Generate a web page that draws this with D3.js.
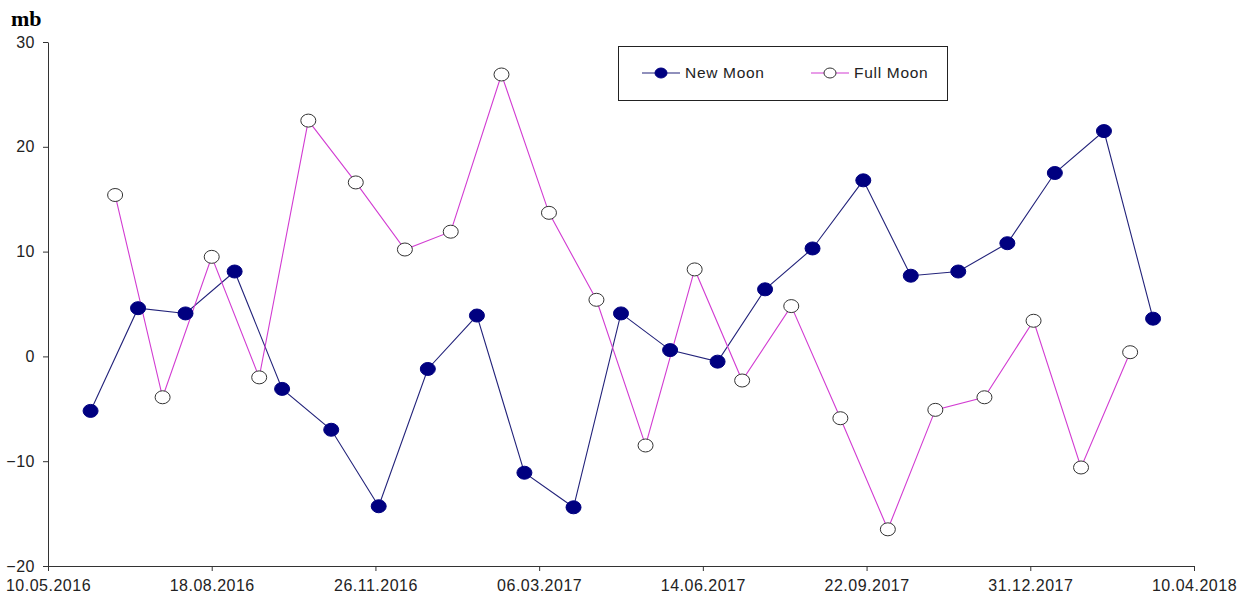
<!DOCTYPE html>
<html>
<head>
<meta charset="utf-8">
<script src="https://cdn.jsdelivr.net/npm/d3@7"></script>
<style>
    body { margin: 0; background: #fff; }
    .axis path, .axis line { stroke: #333; }
    .axis text { font-family: "Liberation Sans", Arial, sans-serif; font-size: 16px; letter-spacing: 0.5px; fill: #222; }
    .legend-text { font-family: "Liberation Sans", Arial, sans-serif; font-size: 15.5px; letter-spacing: 0.7px; fill: #222; }
</style>
</head>
<body>
<svg id="chart"></svg>
<script>
// Dates of the new and full moons (UTC) and the values in mb
const newMoonDates = ["2016-06-05", "2016-07-04", "2016-08-02", "2016-09-01", "2016-09-30", "2016-10-30",
    "2016-11-28", "2016-12-28", "2017-01-27", "2017-02-25", "2017-03-27", "2017-04-25", "2017-05-25",
    "2017-06-23", "2017-07-22", "2017-08-20", "2017-09-20", "2017-10-19", "2017-11-17", "2017-12-17",
    "2018-01-15", "2018-02-14", "2018-03-16"];
const newMoonValues = [-5.2, 4.6, 4.1, 8.1, -3.1, -7.0, -14.3, -1.2, 3.9, -11.1, -14.4, 4.1, 0.6,
    -0.5, 6.4, 10.3, 16.8, 7.7, 8.1, 10.8, 17.5, 21.5, 3.6];

const fullMoonDates = ["2016-06-20", "2016-07-19", "2016-08-18", "2016-09-16", "2016-10-16", "2016-11-14",
    "2016-12-14", "2017-01-11", "2017-02-11", "2017-03-12", "2017-04-10", "2017-05-10", "2017-06-09",
    "2017-07-08", "2017-08-07", "2017-09-06", "2017-10-05", "2017-11-03", "2017-12-03", "2018-01-02",
    "2018-01-31", "2018-03-02"];
const fullMoonValues = [15.4, -3.9, 9.5, -2.0, 22.5, 16.6, 10.2, 11.9, 26.9, 13.7, 5.4, -8.5, 8.3,
    -2.3, 4.8, -5.9, -16.5, -5.1, -3.9, 3.4, -10.6, 0.4];

const xTickLabels = ["10.05.2016", "18.08.2016", "26.11.2016", "06.03.2017", "14.06.2017",
    "22.09.2017", "31.12.2017", "10.04.2018"];
const yTicks = [-20, -10, 0, 10, 20, 30];
const yLabel = "mb";

const config = {
    width: 1238,
    height: 595,
    margin: {top: 42, right: 44, bottom: 29, left: 48}
};

const parseDate = d3.utcParse("%Y-%m-%d");
const parseTick = d3.utcParse("%d.%m.%Y");
const formatTick = d3.utcFormat("%d.%m.%Y");

const series = [
    {name: "New Moon", dates: newMoonDates, values: newMoonValues, line: "#22227a", fill: "#000080", stroke: "#000080"},
    {name: "Full Moon", dates: fullMoonDates, values: fullMoonValues, line: "#d23cd2", fill: "#fff", stroke: "#333"}
];
series.forEach(s => {
    s.points = s.dates.map((d, i) => ({date: parseDate(d), value: s.values[i]}));
});

const innerW = config.width - config.margin.left - config.margin.right;
const innerH = config.height - config.margin.top - config.margin.bottom;

const svg = d3.select("#chart")
    .attr("width", config.width)
    .attr("height", config.height);

const chart = svg.append("g")
    .attr("transform", `translate(${config.margin.left},${config.margin.top})`);

const tickDates = xTickLabels.map(parseTick);

const xScale = d3.scaleUtc()
    .domain([tickDates[0], tickDates[tickDates.length - 1]])
    .range([0, innerW]);

const yScale = d3.scaleLinear()
    .domain([-20, 30])
    .range([innerH, 0]);

// axes
chart.append("g")
    .attr("class", "axis x-axis")
    .attr("transform", `translate(0,${innerH})`)
    .call(d3.axisBottom(xScale).tickValues(tickDates).tickFormat(formatTick).tickSize(5).tickSizeOuter(0))
    .call(g => g.selectAll("text").attr("dy", "1.05em"));

chart.append("g")
    .attr("class", "axis y-axis")
    .call(d3.axisLeft(yScale).tickValues(yTicks).tickSize(5).tickSizeOuter(0).tickPadding(8));

svg.selectAll(".axis").attr("font-family", null).attr("font-size", null);

svg.append("text")
    .attr("x", 11)
    .attr("y", 26)
    .style("font-family", "'Liberation Serif', 'Times New Roman', serif")
    .style("font-weight", "bold")
    .style("font-size", "22px")
    .text(yLabel);

// lines and markers
const line = d3.line()
    .x(d => xScale(d.date))
    .y(d => yScale(d.value));

series.forEach(s => {
    chart.append("path")
        .datum(s.points)
        .attr("fill", "none")
        .attr("stroke", s.line)
        .attr("stroke-width", 1.1)
        .attr("d", line);
});

series.forEach(s => {
    chart.selectAll(null)
        .data(s.points)
        .join("ellipse")
        .attr("cx", d => xScale(d.date))
        .attr("cy", d => yScale(d.value))
        .attr("rx", 7.5)
        .attr("ry", 6.5)
        .attr("fill", s.fill)
        .attr("stroke", s.stroke)
        .attr("stroke-width", 1);
});

// legend
const legend = svg.append("g").attr("transform", "translate(618,46)");
legend.append("rect")
    .attr("x", 0.5).attr("y", 0.5)
    .attr("width", 329).attr("height", 54)
    .attr("fill", "#fff")
    .attr("stroke", "#222");

const legendX = [24, 193];
series.forEach((s, i) => {
    const g = legend.append("g").attr("transform", `translate(${legendX[i]},27)`);
    g.append("line")
        .attr("x1", 0).attr("x2", 38)
        .attr("stroke", s.line).attr("stroke-width", 1.1);
    g.append("ellipse")
        .attr("cx", 19).attr("rx", 6).attr("ry", 5)
        .attr("fill", s.fill).attr("stroke", s.stroke);
    g.append("text")
        .attr("class", "legend-text")
        .attr("x", 43)
        .attr("y", 5)
        .text(s.name);
});
</script>
</body>
</html>
